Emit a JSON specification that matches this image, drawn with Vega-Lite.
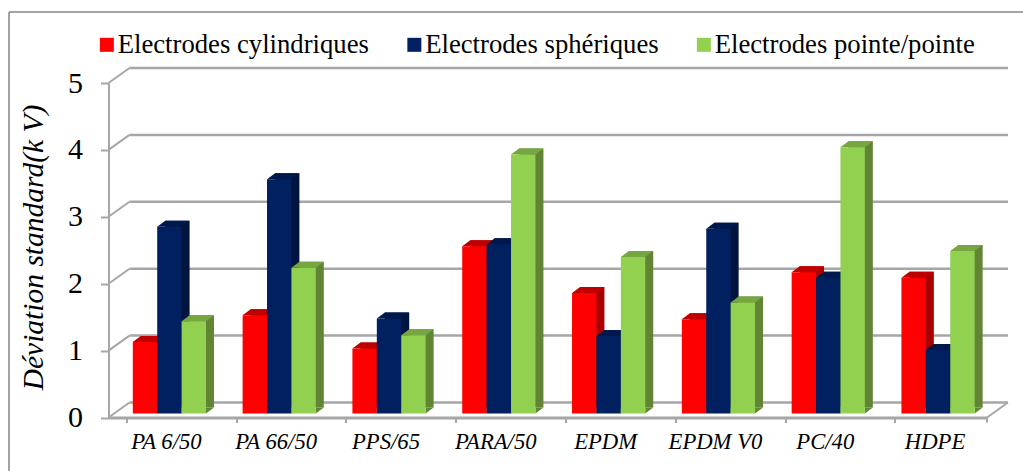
{
"$schema":"https://vega.github.io/schema/vega-lite/v6.json",
"width":878.5,"height":334.5,"autosize":"none",
"padding":{"left":108.5,"top":83,"right":36,"bottom":53.5},
"background":"white",
"config":{"view":{"stroke":null}},
"resolve":{"scale":{"xOffset":"independent"}},
"datasets":{
"bars":[
{"material":"PA 6/50","series":"Electrodes cylindriques","value":1.07},
{"material":"PA 6/50","series":"Electrodes sphériques","value":2.79},
{"material":"PA 6/50","series":"Electrodes pointe/pointe","value":1.38},
{"material":"PA 66/50","series":"Electrodes cylindriques","value":1.47},
{"material":"PA 66/50","series":"Electrodes sphériques","value":3.5},
{"material":"PA 66/50","series":"Electrodes pointe/pointe","value":2.18},
{"material":"PPS/65","series":"Electrodes cylindriques","value":0.97},
{"material":"PPS/65","series":"Electrodes sphériques","value":1.42},
{"material":"PPS/65","series":"Electrodes pointe/pointe","value":1.17},
{"material":"PARA/50","series":"Electrodes cylindriques","value":2.5},
{"material":"PARA/50","series":"Electrodes sphériques","value":2.53},
{"material":"PARA/50","series":"Electrodes pointe/pointe","value":3.87},
{"material":"EPDM","series":"Electrodes cylindriques","value":1.8},
{"material":"EPDM","series":"Electrodes sphériques","value":1.16},
{"material":"EPDM","series":"Electrodes pointe/pointe","value":2.34},
{"material":"EPDM V0","series":"Electrodes cylindriques","value":1.41},
{"material":"EPDM V0","series":"Electrodes sphériques","value":2.76},
{"material":"EPDM V0","series":"Electrodes pointe/pointe","value":1.66},
{"material":"PC/40","series":"Electrodes cylindriques","value":2.11},
{"material":"PC/40","series":"Electrodes sphériques","value":2.03},
{"material":"PC/40","series":"Electrodes pointe/pointe","value":3.98},
{"material":"HDPE","series":"Electrodes cylindriques","value":2.03},
{"material":"HDPE","series":"Electrodes sphériques","value":0.95},
{"material":"HDPE","series":"Electrodes pointe/pointe","value":2.43}
],
"levels":[{"v":0},{"v":1},{"v":2},{"v":3},{"v":4},{"v":5}]
},
"encoding":{
"x":{"field":"material","type":"nominal","sort":null,"title":null,
 "scale":{"domain":["PA 6/50","PA 66/50","PPS/65","PARA/50","EPDM","EPDM V0","PC/40","HDPE"],"paddingInner":0.333,"paddingOuter":0.1667},
 "axis":{"bandPosition":0,"labelAngle":0,"labelFont":"Liberation Serif","labelFontStyle":"italic","labelFontSize":22.7,"labelColor":"black","labelPadding":8,"labelBaseline":"top","tickSize":5,"tickWidth":2,"tickColor":"#a6a6a6","domainWidth":3,"domainColor":"#a6a6a6","grid":false,"labelOffset":3}},
"y":{"field":"value","type":"quantitative","title":"Déviation standard(k V)",
 "scale":{"domain":[0,5],"nice":false,"zero":true},
 "axis":{"values":[0,1,2,3,4,5],"format":"d","grid":false,"labelFont":"Liberation Serif","labelFontSize":30,"labelColor":"black","labelPadding":18,"tickSize":8,"tickWidth":2,"tickColor":"#a6a6a6","domainWidth":2,"domainColor":"#a6a6a6","titleFont":"Liberation Serif","titleFontStyle":"italic","titleFontWeight":"normal","titleFontSize":29.5,"titleColor":"black","titleX":-60,"titleY":164,"titleAnchor":"middle"}}
},
"layer":[
{"data":{"name":"levels"},"mark":{"type":"rule","stroke":"#a6a6a6","strokeWidth":2.5,"yOffset":-15},
 "encoding":{"x":{"value":21},"x2":{"value":899.5},"y":{"field":"v","type":"quantitative"}}},
{"data":{"name":"levels"},"mark":{"type":"rule","stroke":"#a6a6a6","strokeWidth":2,"y2Offset":-15},
 "encoding":{"x":{"value":0},"x2":{"value":21},"y":{"field":"v","type":"quantitative"},"y2":{"field":"v"}}},
{"data":{"values":[{"v":0}]},"mark":{"type":"rule","stroke":"#a6a6a6","strokeWidth":2,"y2Offset":-15},
 "encoding":{"x":{"value":878.5},"x2":{"value":899.5},"y":{"field":"v","type":"quantitative"},"y2":{"field":"v"}}},
{"data":{"values":[{"v":0}]},"mark":{"type":"rule","stroke":"#a6a6a6","strokeWidth":2,"y2Offset":5},
 "encoding":{"x":{"value":878.5},"y":{"field":"v","type":"quantitative"},"y2":{"field":"v"}}},
{"data":{"values":[{"v":0}]},"mark":{"type":"rule","stroke":"#868686","strokeWidth":1.5},
 "encoding":{"x":{"value":-99.5},"x2":{"value":915},"y":{"value":-71}}},
{"data":{"values":[{"v":0}]},"mark":{"type":"rule","stroke":"#868686","strokeWidth":1.5},
 "encoding":{"x":{"value":-99.5},"y":{"value":-71},"y2":{"value":388}}},

{"data":{"name":"bars"},"transform":[{"filter":"datum.series=='Electrodes cylindriques'"}],
 "mark":{"type":"bar","color":"#a80000","yOffset":-10,"y2Offset":-10},
 "encoding":{"xOffset":{"field":"series","type":"nominal","sort":null,"scale":{"domain":["Electrodes cylindriques","Electrodes sphériques","Electrodes pointe/pointe"],"paddingInner":0,"paddingOuter":0,"range":[14,87.2]}}}},
{"data":{"name":"bars"},"transform":[{"filter":"datum.series=='Electrodes cylindriques'"}],
 "mark":{"type":"point","filled":true,"color":"#a80000","opacity":1,"size":1600,"shape":"M0.61,0L1.01,-0.3L0.61,-0.3Z","yOffset":-4},
 "encoding":{"y":{"datum":0},"xOffset":{"field":"series","type":"nominal","sort":null,"scale":{"domain":["Electrodes cylindriques","Electrodes sphériques","Electrodes pointe/pointe"],"padding":0,"range":[18.2,67]}}}},
{"data":{"name":"bars"},"transform":[{"filter":"datum.series=='Electrodes cylindriques'"}],
 "mark":{"type":"point","filled":true,"color":"#c00000","opacity":1,"size":1600,"shape":"M-0.61,0L-0.21,-0.3L1.01,-0.3L0.61,0Z","yOffset":-4},
 "encoding":{"xOffset":{"field":"series","type":"nominal","sort":null,"scale":{"domain":["Electrodes cylindriques","Electrodes sphériques","Electrodes pointe/pointe"],"padding":0,"range":[18.2,67]}}}},
{"data":{"name":"bars"},"transform":[{"filter":"datum.series=='Electrodes cylindriques'"}],
 "mark":{"type":"bar","yOffset":-4,"y2Offset":-4},
 "encoding":{"xOffset":{"field":"series","type":"nominal","sort":null,"scale":{"domain":["Electrodes cylindriques","Electrodes sphériques","Electrodes pointe/pointe"],"paddingInner":0,"paddingOuter":0,"range":[6,79.2]}},
 "color":{"field":"series","type":"nominal","sort":null,
  "scale":{"domain":["Electrodes cylindriques","Electrodes sphériques","Electrodes pointe/pointe"],"range":["#ff0000","#002060","#92d050"]},
  "legend":{"title":null,"orient":"none","legendX":-15,"legendY":-52,"padding":0,"direction":"horizontal","columns":3,"columnPadding":31.5,"symbolType":"square","symbolSize":196,"symbolStrokeWidth":0,"labelFont":"Liberation Serif","labelFontSize":26.7,"labelColor":"black","labelOffset":-2.5,"labelLimit":400,"symbolOpacity":1}}}},

{"data":{"name":"bars"},"transform":[{"filter":"datum.series=='Electrodes sphériques'"}],
 "mark":{"type":"bar","color":"#001440","yOffset":-10,"y2Offset":-10},
 "encoding":{"xOffset":{"field":"series","type":"nominal","sort":null,"scale":{"domain":["Electrodes cylindriques","Electrodes sphériques","Electrodes pointe/pointe"],"paddingInner":0,"paddingOuter":0,"range":[14,87.2]}}}},
{"data":{"name":"bars"},"transform":[{"filter":"datum.series=='Electrodes sphériques'"}],
 "mark":{"type":"point","filled":true,"color":"#001440","opacity":1,"size":1600,"shape":"M0.61,0L1.01,-0.3L0.61,-0.3Z","yOffset":-4},
 "encoding":{"y":{"datum":0},"xOffset":{"field":"series","type":"nominal","sort":null,"scale":{"domain":["Electrodes cylindriques","Electrodes sphériques","Electrodes pointe/pointe"],"padding":0,"range":[18.2,67]}}}},
{"data":{"name":"bars"},"transform":[{"filter":"datum.series=='Electrodes sphériques'"}],
 "mark":{"type":"point","filled":true,"color":"#00184c","opacity":1,"size":1600,"shape":"M-0.61,0L-0.21,-0.3L1.01,-0.3L0.61,0Z","yOffset":-4},
 "encoding":{"xOffset":{"field":"series","type":"nominal","sort":null,"scale":{"domain":["Electrodes cylindriques","Electrodes sphériques","Electrodes pointe/pointe"],"padding":0,"range":[18.2,67]}}}},
{"data":{"name":"bars"},"transform":[{"filter":"datum.series=='Electrodes sphériques'"}],
 "mark":{"type":"bar","yOffset":-4,"y2Offset":-4},
 "encoding":{"xOffset":{"field":"series","type":"nominal","sort":null,"scale":{"domain":["Electrodes cylindriques","Electrodes sphériques","Electrodes pointe/pointe"],"paddingInner":0,"paddingOuter":0,"range":[6,79.2]}},
 "color":{"field":"series","type":"nominal","sort":null}}},

{"data":{"name":"bars"},"transform":[{"filter":"datum.series=='Electrodes pointe/pointe'"}],
 "mark":{"type":"bar","color":"#618535","yOffset":-10,"y2Offset":-10},
 "encoding":{"xOffset":{"field":"series","type":"nominal","sort":null,"scale":{"domain":["Electrodes cylindriques","Electrodes sphériques","Electrodes pointe/pointe"],"paddingInner":0,"paddingOuter":0,"range":[14,87.2]}}}},
{"data":{"name":"bars"},"transform":[{"filter":"datum.series=='Electrodes pointe/pointe'"}],
 "mark":{"type":"point","filled":true,"color":"#618535","opacity":1,"size":1600,"shape":"M0.61,0L1.01,-0.3L0.61,-0.3Z","yOffset":-4},
 "encoding":{"y":{"datum":0},"xOffset":{"field":"series","type":"nominal","sort":null,"scale":{"domain":["Electrodes cylindriques","Electrodes sphériques","Electrodes pointe/pointe"],"padding":0,"range":[18.2,67]}}}},
{"data":{"name":"bars"},"transform":[{"filter":"datum.series=='Electrodes pointe/pointe'"}],
 "mark":{"type":"point","filled":true,"color":"#75a640","opacity":1,"size":1600,"shape":"M-0.61,0L-0.21,-0.3L1.01,-0.3L0.61,0Z","yOffset":-4},
 "encoding":{"xOffset":{"field":"series","type":"nominal","sort":null,"scale":{"domain":["Electrodes cylindriques","Electrodes sphériques","Electrodes pointe/pointe"],"padding":0,"range":[18.2,67]}}}},
{"data":{"name":"bars"},"transform":[{"filter":"datum.series=='Electrodes pointe/pointe'"}],
 "mark":{"type":"bar","yOffset":-4,"y2Offset":-4},
 "encoding":{"xOffset":{"field":"series","type":"nominal","sort":null,"scale":{"domain":["Electrodes cylindriques","Electrodes sphériques","Electrodes pointe/pointe"],"paddingInner":0,"paddingOuter":0,"range":[6,79.2]}},
 "color":{"field":"series","type":"nominal","sort":null}}}
]
}
